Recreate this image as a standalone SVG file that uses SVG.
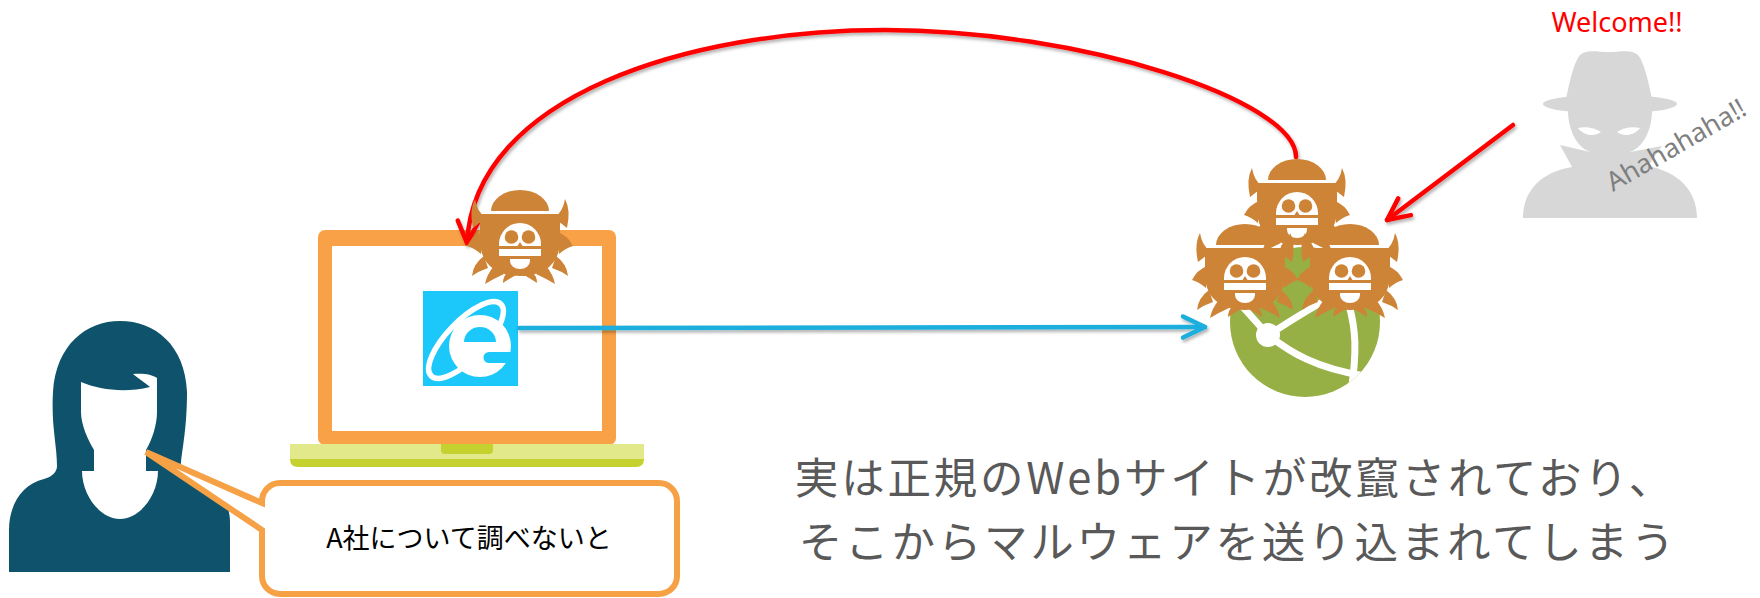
<svg xmlns="http://www.w3.org/2000/svg" width="1760" height="598" viewBox="0 0 1760 598">
  <style>
    .cjk { font-family: "Noto Sans CJK JP", "Noto Sans", sans-serif; }
    .latin { font-family: "Noto Sans", "Liberation Sans", sans-serif; }
    .bugfill { fill: #CD8437; }
    .bone { fill: #FFFFFF; }
    .conn { fill: none; stroke-width: 4.5; stroke-linecap: round; }
    .red { stroke: #FF0000; }
    .blue { stroke: #1AAEDC; }
  </style>
  <defs>
    <filter id="shadow" x="-5%" y="-5%" width="110%" height="120%">
      <feDropShadow dx="1.5" dy="2.5" stdDeviation="1.5" flood-color="#000" flood-opacity="0.3"/>
    </filter>
    <marker id="head-red" markerUnits="userSpaceOnUse" markerWidth="40" markerHeight="40" refX="0" refY="0" orient="auto" overflow="visible">
      <path d="M-22,-10.5 L0,0 L-22,10.5" fill="none" stroke="#FF0000" stroke-width="4.5" stroke-linecap="round" stroke-linejoin="round"/>
    </marker>
    <marker id="head-blue" markerUnits="userSpaceOnUse" markerWidth="40" markerHeight="40" refX="0" refY="0" orient="auto" overflow="visible">
      <path d="M-22,-10.5 L0,0 L-22,10.5" fill="none" stroke="#1AAEDC" stroke-width="4.5" stroke-linecap="round" stroke-linejoin="round"/>
    </marker>
    <!-- one leg set, mirrored for the other side -->
    <g id="legs">
      <path d="M34,-28 Q43,-34 45,-47 Q51,-36 47,-18 Z"/>
      <path d="M38,-14 Q48,-10 53,0 Q46,2 39,8 Z"/>
      <path d="M36,10 Q47,18 48,30 Q41,25 32,22 Z"/>
      <path d="M26,20 Q33,28 35,38 Q27,33 16,28 Z"/>
      <path d="M12,26 Q17,30 17,37 Q11,33 4,29 Z"/>
    </g>
    <!-- malware bug, centred on the skull -->
    <g id="bug">
      <g class="bugfill">
        <path d="M-29,-35 A29,21 0 0 1 29,-35 Z"/>
        <path d="M-40,-32 H40 V-6 C40,18 24,30 0,30 C-24,30 -40,18 -40,-6 Z"/>
        <use href="#legs"/>
        <use href="#legs" transform="scale(-1,1)"/>
      </g>
      <g class="bone">
        <path d="M-21,-2 A21,21 0 0 1 21,-2 V0 H-21 Z"/>
        <rect x="-21" y="3" width="42" height="7"/>
        <path d="M-10,13 H10 V15 A10,8 0 0 1 -10,15 Z"/>
      </g>
      <g class="bugfill">
        <circle cx="-8.5" cy="-9" r="6.8"/>
        <circle cx="8.5" cy="-9" r="6.8"/>
        <path d="M0,-4 L-2.5,0 H2.5 Z"/>
      </g>
    </g>
    <clipPath id="globe-clip">
      <circle cx="1305" cy="322" r="75"/>
    </clipPath>
  </defs>

  <rect width="1760" height="598" fill="#FFFFFF"/>

  <!-- user silhouette -->
  <g id="user">
    <path fill="#0E526B" d="M120,321 C86,321 56,345 53,392 C51,425 57,445 57,466 C57,472 52,477 44,479 C22,484 9,505 9,530 L9,572 L230,572 L230,522 C230,496 210,482 186,478 C182,476 180,470 181,462 C183,445 187,425 187,392 C185,345 155,321 120,321 Z"/>
    <path fill="#FFFFFF" d="M81,382 C100,390 125,393 150,387 C145,383 138,378 133,374 C142,373 152,374 157,378 L157,412 C157,425 152,440 146,450 L146,471 L158,471 C158,495 140,519 120,519 C100,519 82,495 82,471 L94,471 L94,450 C88,440 81,425 81,412 Z"/>
  </g>

  <!-- laptop with browser icon -->
  <g id="laptop">
    <rect x="318" y="230" width="298" height="215" rx="7" fill="#F8A146"/>
    <rect x="332" y="246" width="270" height="185" fill="#FFFFFF"/>
    <path d="M290,454 H644 V459 Q644,467 636,467 H298 Q290,467 290,459 Z" fill="#C5D12E"/>
    <rect x="290" y="444" width="354" height="15" fill="#E2E98A"/>
    <path d="M441,444 H493 V450 Q493,454 489,454 H445 Q441,454 441,450 Z" fill="#C5D12E"/>
  </g>

  <g id="browser">
    <rect x="423" y="291" width="95" height="95" fill="#1CC8F9"/>
    <ellipse cx="466" cy="340" rx="50" ry="19" transform="rotate(-46 466 340)" fill="none" stroke="#FFFFFF" stroke-width="5.5"/>
    <circle cx="480" cy="346" r="31" fill="#FFFFFF"/>
    <path d="M464,342 A16,15 0 0 1 496,342 Z" fill="#1CC8F9"/>
    <path d="M489,352 H512 V363 H489 A5.5,5.5 0 0 1 489,352 Z" fill="#1CC8F9"/>
  </g>

  <!-- speech bubble -->
  <g id="bubble">
    <path d="M280,483 H659 A18,18 0 0 1 677,501 V576 A18,18 0 0 1 659,594 H280 A18,18 0 0 1 262,576 V530 L146,452 L262,503 V501 A18,18 0 0 1 280,483 Z" fill="#FFFFFF" stroke="#F6A145" stroke-width="6" stroke-linejoin="miter"/>
    <text class="cjk" x="469" y="548" font-size="27" text-anchor="middle" fill="#000000">A社について調べないと</text>
  </g>

  <!-- connectors -->
  <g id="connectors" filter="url(#shadow)">
    <path class="conn red" d="M1296,157 C1296,100 1080,30 885,30 C690,30 475,95 467,243" marker-end="url(#head-red)"/>
    <path class="conn red" d="M1513,125 L1387,220" marker-end="url(#head-red)"/>
    <path class="conn blue" d="M519,328 L1205,327" marker-end="url(#head-blue)"/>
  </g>

  <!-- compromised web server -->
  <g id="website">
    <circle cx="1305" cy="322" r="75" fill="#97B046"/>
    <g clip-path="url(#globe-clip)" fill="none" stroke="#FFFFFF" stroke-width="7">
      <path d="M1268,335 L1242,306"/>
      <path d="M1268,335 C1285,325 1300,314 1326,300"/>
      <path d="M1268,335 C1290,352 1315,368 1365,376"/>
      <path d="M1349,305 C1356,330 1357,352 1351,392"/>
    </g>
    <circle cx="1268" cy="335" r="12" fill="#FFFFFF"/>
    <use href="#bug" x="1297" y="215"/>
    <use href="#bug" x="1245" y="280"/>
    <use href="#bug" x="1350" y="280"/>
  </g>

  <!-- malware delivered to the laptop -->
  <g id="laptop-bug">
    <use href="#bug" x="520" y="246"/>
  </g>

  <!-- attacker -->
  <g id="attacker">
    <g fill="#D7D7D7">
      <path d="M1566,99 C1570,80 1574,62 1580,55 C1586,49 1598,52 1608,52 C1620,52 1632,49 1638,55 C1644,62 1648,80 1652,99 Z"/>
      <ellipse cx="1610" cy="104" rx="67" ry="9.5"/>
      <path d="M1568,110 C1568,128 1575,146 1590,152 L1630,152 C1645,146 1652,128 1652,110 Z"/>
      <path d="M1523,218 C1523,190 1542,172 1572,167 L1560,145 L1590,152 L1630,152 L1662,146 L1648,166 C1678,172 1697,190 1697,218 Z"/>
    </g>
    <g fill="#FFFFFF">
      <path d="M1578,128 C1586,126 1595,128 1601,132 C1594,137 1584,136 1578,128 Z"/>
      <path d="M1640,128 C1632,126 1623,128 1617,132 C1624,137 1634,136 1640,128 Z"/>
    </g>
    <text class="latin" x="1617" y="32" font-size="27" text-anchor="middle" fill="#FF0000">Welcome!!</text>
    <text class="latin" x="0" y="0" font-size="26.5" fill="#7F7F7F" transform="translate(1613,192) rotate(-30)">Ahahahaha!!</text>
  </g>

  <!-- caption, two lines -->
  <g id="caption" class="cjk" font-size="43.5" letter-spacing="2.8" fill="#595959" text-anchor="middle">
    <text x="1235" y="494">実は正規のWebサイトが改竄されており、</text>
    <text x="1238" y="557.5">そこからマルウェアを送り込まれてしまう</text>
  </g>
</svg>
